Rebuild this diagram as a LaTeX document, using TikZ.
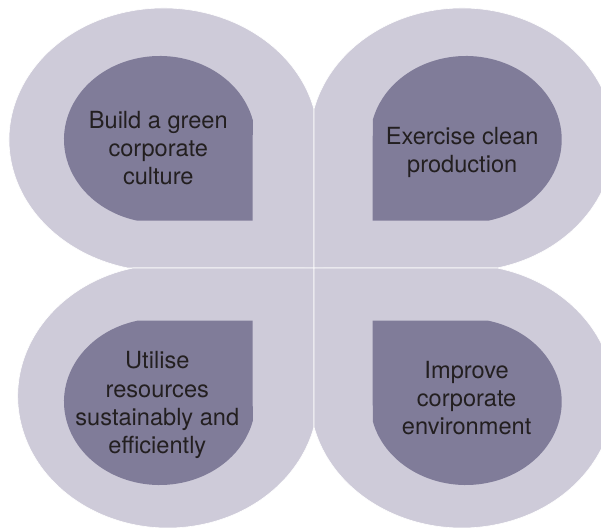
\documentclass[tikz,border=0pt]{standalone}
\usepackage{fontspec}
\setmainfont{TeX Gyre Heros}
\definecolor{outerlav}{RGB}{206,203,217}
\definecolor{innerpur}{RGB}{128,124,153}
\definecolor{txtdark}{RGB}{35,31,32}
\begin{document}
\begin{tikzpicture}[x=1pt,y=1pt,
  outershape/.style={fill=outerlav, draw=white, line width=0.6pt},
  innershape/.style={fill=innerpur},
  lbl/.style={align=center, text=txtdark, inner sep=0pt, font=\fontsize{23.6pt}{28.3pt}\selectfont}]
\useasboundingbox (0,0) rectangle (601,527);
\clip (0,0) rectangle (601,527);
% outer shapes
\path[outershape] (163.6,387.2) ++(13.5:154.6pt and 131.8pt)
  arc[start angle=13.5, end angle=256.5, x radius=154.6pt, y radius=131.8pt] -- (314,259) -- cycle;
\path[outershape] (461.9,387.2) ++(-76.5:152.1pt and 131.8pt)
  arc[start angle=-76.5, end angle=166.5, x radius=152.1pt, y radius=131.8pt] -- (314,259) -- cycle;
\path[outershape] (167.9,130.8) ++(103.5:150.2pt and 131.8pt)
  arc[start angle=103.5, end angle=346.5, x radius=150.2pt, y radius=131.8pt] -- (314,259) -- cycle;
\path[outershape] (461.9,130.8) ++(193.5:152.1pt and 131.8pt)
  arc[start angle=193.5, end angle=436.5, x radius=152.1pt, y radius=131.8pt] -- (314,259) -- cycle;
% inner shapes
\path[innershape] (159.7,387.5) ++(13.5:95.7pt and 83.5pt)
  arc[start angle=13.5, end angle=256.5, x radius=95.7pt, y radius=83.5pt] -- (252.7,306.3) -- cycle;
\path[innershape] (465.9,387.5) ++(-76.5:95.8pt and 83.5pt)
  arc[start angle=-76.5, end angle=166.5, x radius=95.8pt, y radius=83.5pt] -- (372.7,306.3) -- cycle;
\path[innershape] (159.7,125.3) ++(103.5:95.7pt and 83.3pt)
  arc[start angle=103.5, end angle=346.5, x radius=95.7pt, y radius=83.3pt] -- (252.7,206.3) -- cycle;
\path[innershape] (465.9,125.3) ++(193.5:95.8pt and 83.3pt)
  arc[start angle=193.5, end angle=436.5, x radius=95.8pt, y radius=83.3pt] -- (372.7,206.3) -- cycle;
% labels
\node[lbl] (tl) at (158.3,379) {Build a green\\corporate\\culture};
\node[lbl] (tr) at (462.2,374.8) {Exercise clean\\production};
\node[lbl] (bl) at (157.3,121.7) {Utilise\\resources\\sustainably and\\efficiently};
\node[lbl] (br) at (466.6,128.8) {Improve\\corporate\\environment};
\end{tikzpicture}
\end{document}
